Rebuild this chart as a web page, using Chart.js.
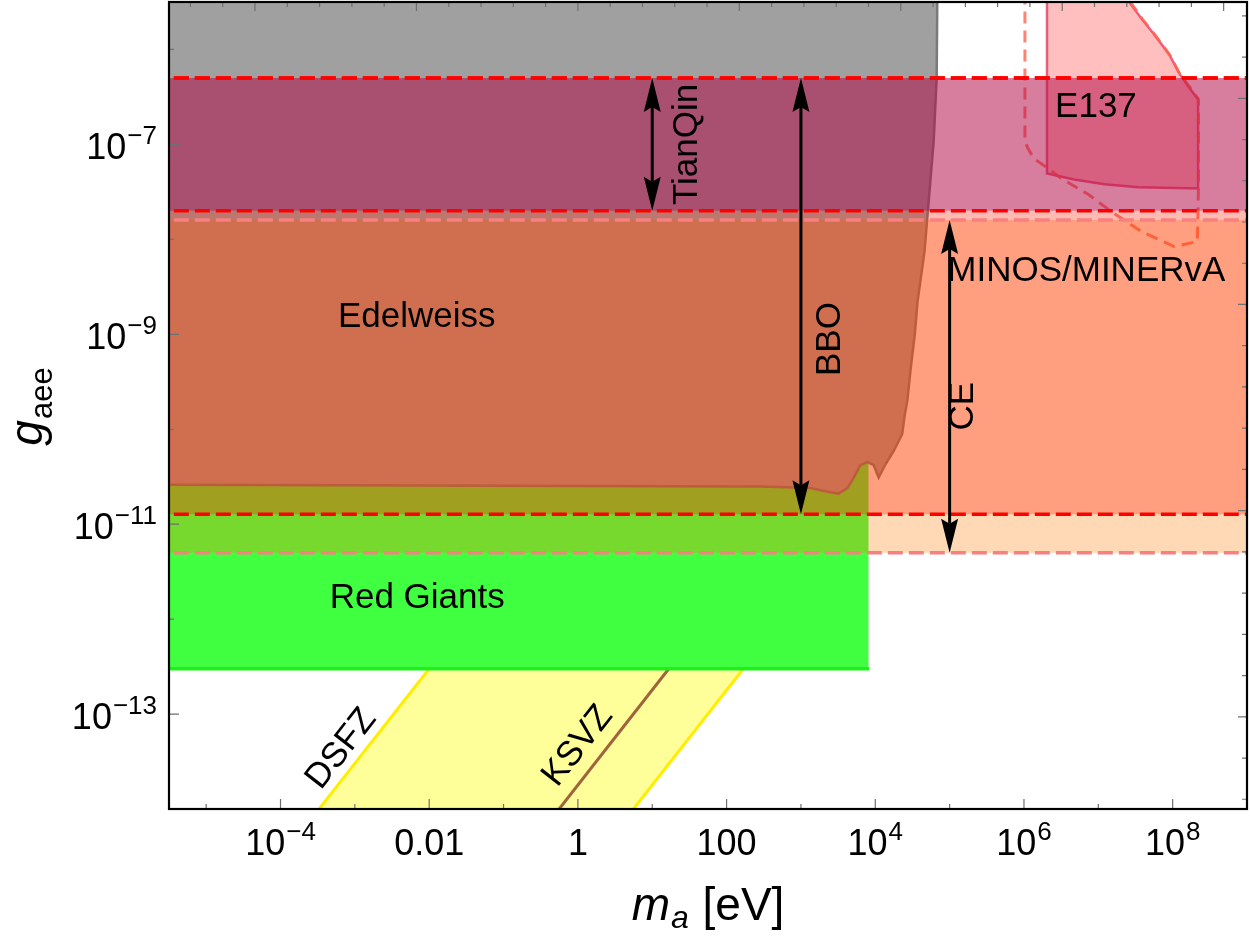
<!DOCTYPE html>
<html>
<head>
<meta charset="utf-8">
<script src="https://cdn.jsdelivr.net/npm/chart.js@4.4.1/dist/chart.umd.min.js"></script>
<style>
  body { margin: 0; background: #fff; }
  canvas { display: block; }
</style>
</head>
<body>
<canvas id="myChart" width="1250" height="936"></canvas>
<script>
// plot ranges (m_a in eV, g_aee)
const massRange = [Math.pow(10, -5.5), 1e9];
const couplingRange = [1e-14, Math.pow(10, -5.5)];

// tick labels
const massTicks = [1e-4, 1e-2, 1, 1e2, 1e4, 1e6, 1e8];
const massTickLabels = ["10^\u22124", "0.01", "1", "100", "10^4", "10^6", "10^8"];
const couplingTicks = [1e-7, 1e-9, 1e-11, 1e-13];
const couplingTickLabels = ["10^\u22127", "10^\u22129", "10^\u221211", "10^\u221213"];

// grey excluded region (Edelweiss etc.)
const greyMass = [1e-6, 6.9e4, 6.7e4, 6.1e4, 5.1e4, 4.6e4, 3.7e4, 3.4e4, 3.0e4, 2.7e4, 2.5e4, 2.3e4,
  1.77e4, 1.38e4, 1.18e4, 1.11e4, 9.5e3, 7.9e3, 6.3e3, 5.1e3, 4.2e3, 3.2e3, 2.3e3, 1.34e3, 285, 1e-6];
const greyCoupling = [1e-5, 1e-5, 5.1e-7, 1.08e-7, 2.0e-8, 7.5e-9, 2.2e-9, 1e-9, 4.4e-10, 2.0e-10, 1.44e-10, 8.9e-11,
  5.9e-11, 4.3e-11, 3.4e-11, 3.1e-11, 4.2e-11, 4.5e-11, 4.2e-11, 3.05e-11, 2.4e-11, 2.1e-11, 2.2e-11, 2.4e-11, 2.5e-11, 2.6e-11];

// red giants
const rgMass = [1e-6, 8.1e3, 8.1e3, 1e-6];
const rgCoupling = [3e-13, 3e-13, 1e-10, 1e-10];
const rgEdgeMass = [1e-6, 8.3e3];
const rgEdgeCoupling = [3e-13, 3e-13];

// QCD axion band
const dfszMass = [3.3e-4, 1.0e-2];
const dfszCoupling = [1e-14, 3e-13];
const ksvzMass = [0.56, 16.7];
const ksvzCoupling = [1e-14, 3e-13];
const qcdEdgeMass = [5.6, 168];
const qcdEdgeCoupling = [1e-14, 3e-13];

// E137 beam dump
const e137Mass = [2.04e6, 2.04e6, 4.7e6, 1.2e7, 3.4e7, 2.2e8, 2.2e8, 1.63e8, 1.23e8, 9.0e7, 5.65e7, 3.8e7, 2.5e7, 2.04e6];
const e137Coupling = [1e-5, 4.95e-8, 4.28e-8, 3.8e-8, 3.53e-8, 3.44e-8, 2.98e-7, 4.08e-7, 5.6e-7, 8.85e-7, 1.44e-6, 2.12e-6, 3.3e-6, 1e-5];

// MINOS/MINERvA (dashed outline)
const minosMass = [1.03e6, 1.03e6, 1.13e6, 1.36e6, 2.1e6, 3.15e6, 7.3e6, 1.49e7, 3.78e7, 1.05e8, 2.15e8, 2.22e8,
  2.22e8, 1.7e8, 1.25e8, 9.2e7, 5.8e7, 3.9e7, 2.6e7];
const minosCoupling = [1e-5, 1.08e-7, 9.1e-8, 7.1e-8, 5.6e-8, 4.4e-8, 2.98e-8, 1.97e-8, 1.21e-8, 8.4e-9, 9.5e-9, 3.4e-8,
  3.0e-7, 4.0e-7, 5.5e-7, 8.7e-7, 1.42e-6, 2.1e-6, 3.3e-6];

// GW detector sensitivity bands
const bandNames = ["TianQin", "BBO", "CE"];
const bandLower = [2.0e-8, 1.27e-11, 5.0e-12];
const bandUpper = [5.0e-7, 5.0e-7, 1.6e-8];
const bandArrowMass = [10, 1000, 1e5];
const bandFill = ["rgba(130,0,114,0.32)", "rgba(255,27,0,0.3)", "rgba(255,120,0,0.29)"];
const bandEdge = ["#ff0000", "#ff0000", "#f88080"];

const FONT = '"Liberation Sans", Arial, sans-serif';

function pts(ms, gs) {
  return ms.map((m, i) => ({ x: m, y: gs[i] }));
}

let datasets = [];
function addLine(ms, gs, opts) {
  datasets.push(Object.assign({ data: pts(ms, gs), pointRadius: 0, fill: false, borderWidth: 0 }, opts));
}

// QCD band
addLine(dfszMass.concat(qcdEdgeMass.slice().reverse()), dfszCoupling.concat(qcdEdgeCoupling.slice().reverse()),
  { fill: "shape", backgroundColor: "#ffff99", borderColor: "rgba(0,0,0,0)", order: 100 });
addLine(dfszMass, dfszCoupling, { borderColor: "#ffee00", borderWidth: 3, order: 99 });
addLine(qcdEdgeMass, qcdEdgeCoupling, { borderColor: "#ffee00", borderWidth: 3, order: 99 });
addLine(ksvzMass, ksvzCoupling, { borderColor: "#a0643c", borderWidth: 3, order: 99 });

// red giants
addLine(rgMass, rgCoupling, { fill: "shape", backgroundColor: "#40ff40", borderColor: "rgba(0,0,0,0)", order: 90 });
addLine(rgEdgeMass, rgEdgeCoupling, { borderColor: "#1ef01e", borderWidth: 3.5, order: 89 });

// grey region
addLine(greyMass, greyCoupling, { fill: "shape", backgroundColor: "#a0a0a0", borderColor: "#7a7a7a", borderWidth: 2.5, order: 80 });

// E137 and MINOS
addLine(e137Mass, e137Coupling, { fill: "shape", backgroundColor: "rgba(255,0,0,0.25)", borderColor: "rgba(232,50,90,0.75)", borderWidth: 2.5, order: 70 });
addLine(minosMass, minosCoupling, { borderColor: "rgba(255,100,80,0.8)", borderWidth: 3, borderDash: [12, 7], order: 65 });

// bands: CE lowest, then BBO, TianQin on top
bandNames.forEach((name, i) => {
  addLine([1e-6, 1e10, 1e10, 1e-6], [bandLower[i], bandLower[i], bandUpper[i], bandUpper[i]],
    { label: name, fill: "shape", backgroundColor: bandFill[i], borderColor: "rgba(0,0,0,0)", order: 50 + i * 5 });
});
bandNames.forEach((name, i) => {
  addLine([1e-6, 1e10], [bandLower[i], bandLower[i]], { borderColor: bandEdge[i], borderWidth: 3.5, borderDash: [15, 6], order: 40 - i });
  addLine([1e-6, 1e10], [bandUpper[i], bandUpper[i]], { borderColor: bandEdge[i], borderWidth: 3.5, borderDash: [15, 6], order: 40 - i });
});

function drawPower(ctx, label, x, y, align) {
  const parts = label.split("^");
  const big = "36px " + FONT, small = "26px " + FONT;
  ctx.font = big;
  const wb = ctx.measureText(parts[0]).width;
  let we = 0;
  if (parts[1]) { ctx.font = small; we = ctx.measureText(parts[1]).width + 1; }
  const total = wb + we;
  const left = align === "center" ? x - total / 2 : x - total;
  ctx.textAlign = "left";
  ctx.textBaseline = "alphabetic";
  ctx.font = big;
  ctx.fillText(parts[0], left, y);
  if (parts[1]) {
    ctx.font = small;
    ctx.fillText(parts[1], left + wb + 1, y - 15);
  }
}

const frameAndTicks = {
  id: "frameAndTicks",
  afterDatasetsDraw(chart) {
    const { ctx, chartArea: a, scales: { x, y } } = chart;
    ctx.save();
    ctx.strokeStyle = "#707070";
    ctx.lineWidth = 1.2;
    ctx.beginPath();
    // decade ticks on bottom and left
    for (let p = -5; p <= 8; p++) {
      const px = x.getPixelForValue(Math.pow(10, p));
      const len = p % 2 === 0 ? 10 : 5;
      ctx.moveTo(px, a.bottom); ctx.lineTo(px, a.bottom - len);
    }
    for (let p = -13; p <= -6; p++) {
      const py = y.getPixelForValue(Math.pow(10, p));
      const len = p % 2 !== 0 ? 10 : 5;
      ctx.moveTo(a.left, py); ctx.lineTo(a.left + len, py);
    }
    // natural-log ticks on top and right
    for (let n = -12; n <= 20; n++) {
      const px = x.getPixelForValue(Math.exp(n));
      const len = n % 5 === 0 ? 9 : 5;
      ctx.moveTo(px, a.top); ctx.lineTo(px, a.top + len);
    }
    for (let n = -32; n <= -13; n++) {
      const py = y.getPixelForValue(Math.exp(n));
      const len = n % 5 === 0 ? 9 : 5;
      ctx.moveTo(a.right, py); ctx.lineTo(a.right - len, py);
    }
    ctx.stroke();

    // arrows
    ctx.fillStyle = "#000";
    ctx.strokeStyle = "#000";
    ctx.lineWidth = 3;
    bandArrowMass.forEach((m, i) => {
      const px = x.getPixelForValue(m);
      const yTop = y.getPixelForValue(bandUpper[i]);
      const yBot = y.getPixelForValue(bandLower[i]);
      const head = 34, half = 8.5, notch = 5;
      ctx.beginPath();
      ctx.moveTo(px, yTop + head - notch);
      ctx.lineTo(px, yBot - head + notch);
      ctx.stroke();
      ctx.beginPath();
      ctx.moveTo(px, yTop);
      ctx.lineTo(px + half, yTop + head);
      ctx.lineTo(px, yTop + head - notch);
      ctx.lineTo(px - half, yTop + head);
      ctx.closePath();
      ctx.fill();
      ctx.beginPath();
      ctx.moveTo(px, yBot);
      ctx.lineTo(px + half, yBot - head);
      ctx.lineTo(px, yBot - head + notch);
      ctx.lineTo(px - half, yBot - head);
      ctx.closePath();
      ctx.fill();
    });

    // labels inside the plot
    ctx.font = "35px " + FONT;
    ctx.textAlign = "center";
    ctx.textBaseline = "middle";
    const flat = [["Edelweiss", 6.8e-3, 1.5e-9], ["Red Giants", 6.9e-3, 1.66e-12], ["E137", 9.3e6, 2.45e-7], ["MINOS/MINERvA", 6.9e6, 4.6e-9]];
    flat.forEach(([t, m, g]) => ctx.fillText(t, x.getPixelForValue(m), y.getPixelForValue(g)));
    const vert = [["TianQin", 29.5, 1e-7], ["BBO", 2.5e3, 8.9e-10], ["CE", 1.55e5, 1.75e-10]];
    vert.forEach(([t, m, g]) => {
      ctx.save();
      ctx.translate(x.getPixelForValue(m), y.getPixelForValue(g));
      ctx.rotate(-Math.PI / 2);
      ctx.fillText(t, 0, 0);
      ctx.restore();
    });
    const slanted = [["DSFZ", 6.6e-4, 4.3e-14, dfszMass, dfszCoupling], ["KSVZ", 1.0, 4.6e-14, ksvzMass, ksvzCoupling]];
    slanted.forEach(([t, m, g, lm, lg]) => {
      const ang = Math.atan2(y.getPixelForValue(lg[1]) - y.getPixelForValue(lg[0]), x.getPixelForValue(lm[1]) - x.getPixelForValue(lm[0]));
      ctx.save();
      ctx.translate(x.getPixelForValue(m), y.getPixelForValue(g));
      ctx.rotate(ang);
      ctx.fillText(t, 0, 0);
      ctx.restore();
    });

    // frame
    ctx.strokeStyle = "#000";
    ctx.lineWidth = 2.2;
    ctx.strokeRect(a.left, a.top, a.right - a.left, a.bottom - a.top);
    ctx.restore();
  },
  afterDraw(chart) {
    const { ctx, chartArea: a, scales: { x, y } } = chart;
    ctx.save();
    ctx.fillStyle = "#000";
    massTicks.forEach((v, i) => drawPower(ctx, massTickLabels[i], x.getPixelForValue(v), a.bottom + 46, "center"));
    couplingTicks.forEach((v, i) => drawPower(ctx, couplingTickLabels[i], a.left - 12, y.getPixelForValue(v) + 15, "right"));

    // x title: m_a [eV]
    const bigI = "italic 46px " + FONT, subI = "italic 32px " + FONT, big = "46px " + FONT;
    ctx.textBaseline = "alphabetic";
    ctx.textAlign = "left";
    ctx.font = bigI; const w1 = ctx.measureText("m").width;
    ctx.font = subI; const w2 = ctx.measureText("a").width;
    ctx.font = big; const w3 = ctx.measureText(" [eV]").width;
    let sx = 707 - (w1 + w2 + w3) / 2;
    ctx.font = bigI; ctx.fillText("m", sx, 920);
    ctx.font = subI; ctx.fillText("a", sx + w1 + 1, 928);
    ctx.font = big; ctx.fillText(" [eV]", sx + w1 + w2 + 2, 920);

    // y title: g_aee
    const subR = "31px " + FONT;
    ctx.font = bigI; const g1 = ctx.measureText("g").width;
    ctx.font = subR; const g2 = ctx.measureText("aee").width;
    ctx.translate(42, 407 + (g1 + g2) / 2);
    ctx.rotate(-Math.PI / 2);
    ctx.font = bigI; ctx.fillText("g", 0, 0);
    ctx.font = subR; ctx.fillText("aee", g1 + 1, 10);
    ctx.restore();
  }
};

const ctx = document.getElementById("myChart").getContext("2d");
const chart = new Chart(ctx, {
  type: "line",
  data: { datasets: datasets },
  options: {
    responsive: false,
    animation: false,
    events: [],
    devicePixelRatio: 1,
    layout: { padding: { left: 0, top: 2, right: 3, bottom: 0 } },
    elements: { point: { radius: 0 }, line: { tension: 0 } },
    plugins: { legend: { display: false }, tooltip: { enabled: false } },
    scales: {
      x: {
        type: "logarithmic", min: massRange[0], max: massRange[1],
        grid: { display: false }, border: { display: false }, ticks: { display: false },
        afterFit: (s) => { s.height = 127; }
      },
      y: {
        type: "logarithmic", min: couplingRange[0], max: couplingRange[1],
        grid: { display: false }, border: { display: false }, ticks: { display: false },
        afterFit: (s) => { s.width = 169; }
      }
    }
  },
  plugins: [frameAndTicks]
});
</script>
</body>
</html>
